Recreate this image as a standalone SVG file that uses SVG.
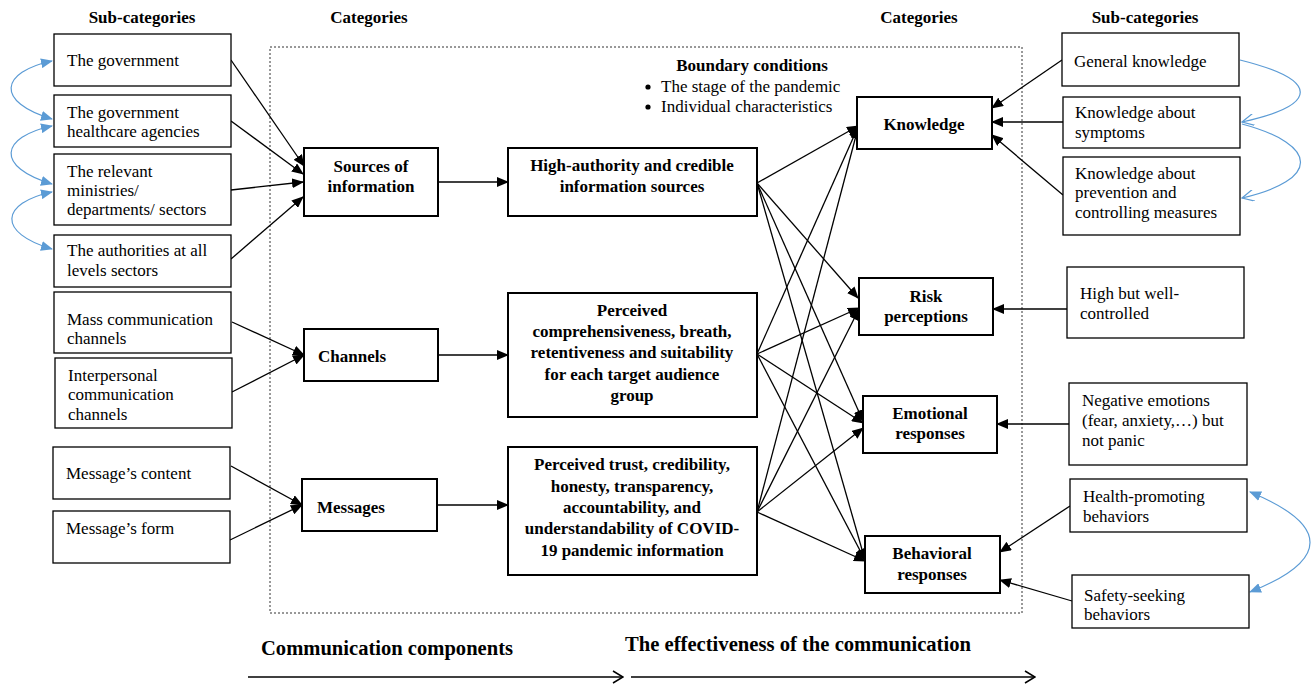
<svg xmlns="http://www.w3.org/2000/svg" width="1311" height="684" viewBox="0 0 1311 684">
<style>
text{font-family:"Liberation Serif","Times New Roman",serif;font-size:17px;fill:#000}
.b{font-weight:bold}
.m{text-anchor:middle}
.sub{fill:#fff;stroke:#000;stroke-width:1.3}
.cat{fill:#fff;stroke:#000;stroke-width:2}
.ln{stroke:#000;stroke-width:1.3;fill:none;marker-end:url(#ah)}
.bl{stroke:#5b9bd5;stroke-width:1.2;fill:none}
</style>
<defs>
<marker id="ah" markerUnits="userSpaceOnUse" markerWidth="12" markerHeight="10" refX="11" refY="5" orient="auto">
<path d="M0,0 L12,5 L0,10 Z" fill="#000"/>
</marker>
<marker id="bf" markerUnits="userSpaceOnUse" markerWidth="12" markerHeight="10" refX="11" refY="5" orient="auto-start-reverse">
<path d="M0,0 L12,5 L0,10 Z" fill="#5b9bd5"/>
</marker>
<marker id="bo" markerUnits="userSpaceOnUse" markerWidth="14" markerHeight="12" refX="12" refY="6" orient="auto">
<path d="M0,0 L12,6 L0,12" fill="none" stroke="#5b9bd5" stroke-width="1.2"/>
</marker>
<marker id="chev" markerUnits="userSpaceOnUse" markerWidth="12" markerHeight="14" refX="11" refY="7" orient="auto">
<path d="M1,1 L11,7 L1,13" fill="none" stroke="#000" stroke-width="1.5"/>
</marker>
</defs>

<g id="headers">
<text class="b m" x="142" y="23">Sub-categories</text>
<text class="b m" x="369" y="23">Categories</text>
<text class="b m" x="919" y="23">Categories</text>
<text class="b m" x="1145" y="23">Sub-categories</text>
</g>

<rect id="boundary" x="270" y="47" width="752" height="566" fill="none" stroke="#333" stroke-width="1" stroke-dasharray="2,2"/>

<g id="boundary-conditions">
<text class="b m" x="752" y="71">Boundary conditions</text>
<circle cx="648" cy="87" r="2.6" fill="#000"/>
<text x="661" y="92">The stage of the pandemic</text>
<circle cx="648" cy="107" r="2.6" fill="#000"/>
<text x="661" y="112">Individual characteristics</text>
</g>

<g id="connectors">
<line class="ln" x1="231" y1="60" x2="304" y2="166"/>
<line class="ln" x1="231" y1="121" x2="303" y2="174"/>
<line class="ln" x1="231" y1="190" x2="303" y2="182"/>
<line class="ln" x1="231" y1="259" x2="303" y2="197"/>
<line class="ln" x1="232" y1="322" x2="304" y2="355"/>
<line class="ln" x1="232" y1="392" x2="304" y2="355"/>
<line class="ln" x1="231" y1="466" x2="302" y2="505"/>
<line class="ln" x1="230" y1="540" x2="302" y2="505"/>
<line class="ln" x1="438" y1="182" x2="508" y2="182"/>
<line class="ln" x1="438" y1="355" x2="508" y2="355"/>
<line class="ln" x1="437" y1="505" x2="508" y2="505"/>
<line class="ln" x1="757" y1="183" x2="858" y2="126"/>
<line class="ln" x1="757" y1="183" x2="858" y2="298"/>
<line class="ln" x1="757" y1="183" x2="863" y2="421"/>
<line class="ln" x1="757" y1="183" x2="865" y2="560"/>
<line class="ln" x1="757" y1="354" x2="858" y2="127"/>
<line class="ln" x1="757" y1="354" x2="859" y2="308"/>
<line class="ln" x1="757" y1="354" x2="863" y2="423"/>
<line class="ln" x1="757" y1="354" x2="865" y2="560"/>
<line class="ln" x1="757" y1="512" x2="858" y2="128"/>
<line class="ln" x1="757" y1="512" x2="859" y2="309"/>
<line class="ln" x1="757" y1="512" x2="863" y2="428"/>
<line class="ln" x1="757" y1="512" x2="865" y2="561"/>
<line class="ln" x1="1062" y1="60" x2="992" y2="108"/>
<line class="ln" x1="1063" y1="122" x2="992" y2="122"/>
<line class="ln" x1="1063" y1="195" x2="992" y2="135"/>
<line class="ln" x1="1067" y1="309" x2="993" y2="309"/>
<line class="ln" x1="1069" y1="424" x2="997" y2="424"/>
<line class="ln" x1="1070" y1="506" x2="1000" y2="552"/>
<line class="ln" x1="1072" y1="601" x2="1000" y2="580"/>
<path class="bl" d="M52,61 C0,72 -5,102 52,119" marker-start="url(#bf)" marker-end="url(#bf)"/>
<path class="bl" d="M52,126 C0,137 -5,167 52,184" marker-start="url(#bf)" marker-end="url(#bf)"/>
<path class="bl" d="M52,192 C0,203 -3,233 52,249" marker-start="url(#bf)" marker-end="url(#bf)"/>
<path class="bl" d="M1240,60 C1320,80 1320,105 1242,122" marker-end="url(#bo)"/>
<path class="bl" d="M1242,124 C1320,145 1320,180 1242,198" marker-end="url(#bo)"/>
<path class="bl" d="M1250,492 C1330,525 1330,560 1250,592" marker-start="url(#bf)" marker-end="url(#bf)"/>
<line x1="248" y1="677" x2="623" y2="677" stroke="#000" stroke-width="1.5" marker-end="url(#chev)"/>
<line x1="631" y1="677" x2="1035" y2="677" stroke="#000" stroke-width="1.5" marker-end="url(#chev)"/>
</g>

<g id="sub-government"><rect class="sub" x="54" y="34" width="177" height="52"/><text x="67" y="66">The government</text></g>
<g id="sub-healthcare"><rect class="sub" x="54" y="95" width="177" height="52"/><text x="67" y="118">The government</text><text x="67" y="137">healthcare agencies</text></g>
<g id="sub-ministries"><rect class="sub" x="54" y="154" width="177" height="71"/><text x="67" y="177">The relevant</text><text x="67" y="196">ministries/</text><text x="67" y="215">departments/ sectors</text></g>
<g id="sub-authorities"><rect class="sub" x="54" y="235" width="177" height="52"/><text x="67" y="256">The authorities at all</text><text x="67" y="276">levels sectors</text></g>
<g id="sub-mass"><rect class="sub" x="54" y="292" width="177" height="61"/><text x="67" y="325">Mass communication</text><text x="67" y="344">channels</text></g>
<g id="sub-interpersonal"><rect class="sub" x="55" y="358" width="177" height="70"/><text x="68" y="381">Interpersonal</text><text x="68" y="400">communication</text><text x="68" y="420">channels</text></g>
<g id="sub-content"><rect class="sub" x="53" y="447" width="177" height="52"/><text x="66" y="479">Message’s content</text></g>
<g id="sub-form"><rect class="sub" x="53" y="511" width="177" height="52"/><text x="66" y="534">Message’s form</text></g>

<g id="cat-sources"><rect class="cat" x="304" y="148" width="134" height="68"/><text class="b m" x="371" y="172">Sources of</text><text class="b m" x="371" y="192">information</text></g>
<g id="cat-channels"><rect class="cat" x="304" y="329" width="134" height="52"/><text class="b" x="318" y="362">Channels</text></g>
<g id="cat-messages"><rect class="cat" x="302" y="479" width="135" height="52"/><text class="b" x="317" y="513">Messages</text></g>

<g id="eff-authority"><rect class="cat" x="508" y="148" width="249" height="68"/><text class="b m" x="632" y="171">High-authority and credible</text><text class="b m" x="632" y="192">information sources</text></g>
<g id="eff-comprehensive"><rect class="cat" x="508" y="293" width="249" height="124"/><text class="b m" x="632" y="316">Perceived</text><text class="b m" x="632" y="337">comprehensiveness, breath,</text><text class="b m" x="632" y="358">retentiveness and suitability</text><text class="b m" x="632" y="380">for each target audience</text><text class="b m" x="632" y="401">group</text></g>
<g id="eff-trust"><rect class="cat" x="508" y="447" width="249" height="128"/><text class="b m" x="632" y="470">Perceived trust, credibility,</text><text class="b m" x="632" y="492">honesty, transparency,</text><text class="b m" x="632" y="513">accountability, and</text><text class="b m" x="632" y="534">understandability of COVID-</text><text class="b m" x="632" y="556">19 pandemic information</text></g>

<g id="cat-knowledge"><rect class="cat" x="857" y="97" width="135" height="52"/><text class="b m" x="924" y="130">Knowledge</text></g>
<g id="cat-risk"><rect class="cat" x="859" y="278" width="134" height="57"/><text class="b m" x="926" y="302">Risk</text><text class="b m" x="926" y="322">perceptions</text></g>
<g id="cat-emotional"><rect class="cat" x="863" y="396" width="134" height="57"/><text class="b m" x="930" y="419">Emotional</text><text class="b m" x="930" y="439">responses</text></g>
<g id="cat-behavioral"><rect class="cat" x="865" y="536" width="135" height="57"/><text class="b m" x="932" y="559">Behavioral</text><text class="b m" x="932" y="580">responses</text></g>

<g id="sub-general"><rect class="sub" x="1062" y="33" width="177" height="53"/><text x="1074" y="67">General knowledge</text></g>
<g id="sub-symptoms"><rect class="sub" x="1063" y="97" width="177" height="51"/><text x="1075" y="118">Knowledge about</text><text x="1075" y="138">symptoms</text></g>
<g id="sub-prevention"><rect class="sub" x="1063" y="157" width="177" height="78"/><text x="1075" y="179">Knowledge about</text><text x="1075" y="198">prevention and</text><text x="1075" y="218">controlling measures</text></g>
<g id="sub-high"><rect class="sub" x="1067" y="267" width="177" height="71"/><text x="1080" y="299">High but well-</text><text x="1080" y="319">controlled</text></g>
<g id="sub-negative"><rect class="sub" x="1069" y="383" width="178" height="82"/><text x="1082" y="406">Negative emotions</text><text x="1082" y="426">(fear, anxiety,…) but</text><text x="1082" y="446">not panic</text></g>
<g id="sub-health"><rect class="sub" x="1070" y="479" width="177" height="53"/><text x="1083" y="502">Health-promoting</text><text x="1083" y="522">behaviors</text></g>
<g id="sub-safety"><rect class="sub" x="1072" y="575" width="177" height="53"/><text x="1084" y="601">Safety-seeking</text><text x="1084" y="620">behaviors</text></g>

<g id="bottom-labels">
<text class="b" x="261" y="655" font-size="20" textLength="252" lengthAdjust="spacingAndGlyphs" style="font-size:20px">Communication components</text>
<text class="b" x="625" y="651" font-size="20" textLength="346" lengthAdjust="spacingAndGlyphs" style="font-size:20px">The effectiveness of the communication</text>
</g>
</svg>
